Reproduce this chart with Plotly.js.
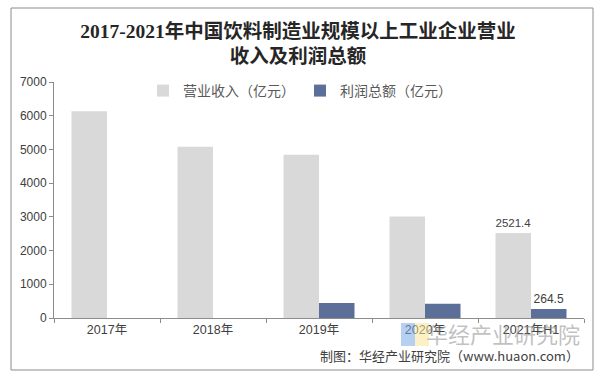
<!DOCTYPE html>
<html>
<head>
<meta charset="utf-8">
<script src="https://cdn.plot.ly/plotly-3.0.1.min.js"></script>
<style>
html,body{margin:0;padding:0;background:#fff;}
#chart{width:600px;height:379px;}
</style>
</head>
<body>
<div id="chart"></div>
<script>
const categories = ["2017年", "2018年", "2019年", "2020年", "2021年H1"];
const revenue = [6130, 5080, 4845, 3010, 2521.4];
const profit = [null, null, 445, 424, 264.5];
const revenueLabels = ["", "", "", "", "2521.4"];
const profitLabels = ["", "", "", "", "264.5"];
const yTicks = [0, 1000, 2000, 3000, 4000, 5000, 6000, 7000];

const L = 54, R = 16, T = 82, B = 61, W = 600, H = 379;
const pw = W - L - R, ph = H - T - B;
const px = v => (v - L) / pw;
const py = v => (H - B - v) / ph;

const traces = [
  {
    type: "bar", name: "营业收入（亿元）", x: categories, y: revenue,
    marker: {color: "#d9d9d9"},
    text: revenueLabels, textposition: "outside", cliponaxis: false,
    textfont: {family: "Liberation Sans, Arial, sans-serif", size: 12, color: "#404040"},
    hoverinfo: "x+y"
  },
  {
    type: "bar", name: "利润总额（亿元）", x: categories, y: profit,
    marker: {color: "#5b6f98"},
    text: profitLabels, textposition: "outside", cliponaxis: false,
    textfont: {family: "Liberation Sans, Arial, sans-serif", size: 12, color: "#404040"},
    hoverinfo: "x+y"
  }
];

const layout = {
  width: W, height: H,
  margin: {l: L, r: R, t: T, b: B, pad: 0},
  paper_bgcolor: "#ffffff", plot_bgcolor: "#ffffff",
  font: {family: "Liberation Sans, Noto Sans CJK SC, sans-serif", color: "#404040"},
  title: {
    text: "<b>2017-2021年中国饮料制造业规模以上工业企业营业<br>收入及利润总额</b>",
    font: {family: "Liberation Serif, Noto Sans CJK SC, serif", size: 19.5, color: "#262626"},
    x: px(298), xanchor: "center", xref: "paper", y: 1 - 38 / H, yanchor: "top"
  },
  barmode: "group", bargap: 0.33, bargroupgap: 0,
  showlegend: true,
  legend: {
    orientation: "h", x: px(300), xanchor: "center", y: py(91), yanchor: "middle",
    font: {family: "Noto Sans CJK SC, sans-serif", size: 14, color: "#595959"},
    traceorder: "normal", bgcolor: "rgba(0,0,0,0)"
  },
  xaxis: {
    type: "category", showgrid: false, zeroline: false,
    showline: true, linecolor: "#8c8c8c", linewidth: 1,
    ticks: "outside", ticklen: 4, tickcolor: "#8c8c8c", tickson: "boundaries",
    tickfont: {family: "Liberation Sans, Noto Sans CJK SC, sans-serif", size: 12.5, color: "#404040"},
    fixedrange: true
  },
  yaxis: {
    range: [0, 7000], tickvals: yTicks, ticktext: yTicks.map(String),
    showgrid: false, zeroline: false,
    showline: true, linecolor: "#8c8c8c", linewidth: 1,
    ticks: "outside", ticklen: 4, tickcolor: "#8c8c8c",
    tickfont: {family: "Liberation Sans, sans-serif", size: 12, color: "#404040"},
    fixedrange: true
  },
  shapes: [
    {type: "rect", xref: "paper", yref: "paper", x0: px(11), x1: px(593), y0: py(370), y1: py(8),
     line: {color: "#8c8c8c", width: 1}, fillcolor: "rgba(0,0,0,0)", layer: "below"},
    {type: "rect", xref: "paper", yref: "paper", x0: px(401), x1: px(415), y0: py(346), y1: py(323),
     line: {width: 0}, fillcolor: "rgba(120,170,230,0.55)", layer: "above"},
    {type: "rect", xref: "paper", yref: "paper", x0: px(415), x1: px(429), y0: py(346), y1: py(323),
     line: {width: 0}, fillcolor: "rgba(250,230,150,0.55)", layer: "above"}
  ],
  annotations: [
    {text: "华经产业研究院", xref: "paper", yref: "paper", x: px(582), y: py(333),
     xanchor: "right", yanchor: "middle", showarrow: false,
     font: {family: "Noto Sans CJK SC, sans-serif", size: 22, color: "rgba(140,140,140,0.55)"}},
    {text: "制图：华经产业研究院（www.huaon.com）", xref: "paper", yref: "paper", x: px(581), y: py(355),
     xanchor: "right", yanchor: "middle", showarrow: false,
     font: {family: "Noto Sans CJK SC, sans-serif", size: 13, color: "#404040"}}
  ]
};

Plotly.newPlot("chart", traces, layout, {displayModeBar: false, staticPlot: true});
</script>
</body>
</html>
